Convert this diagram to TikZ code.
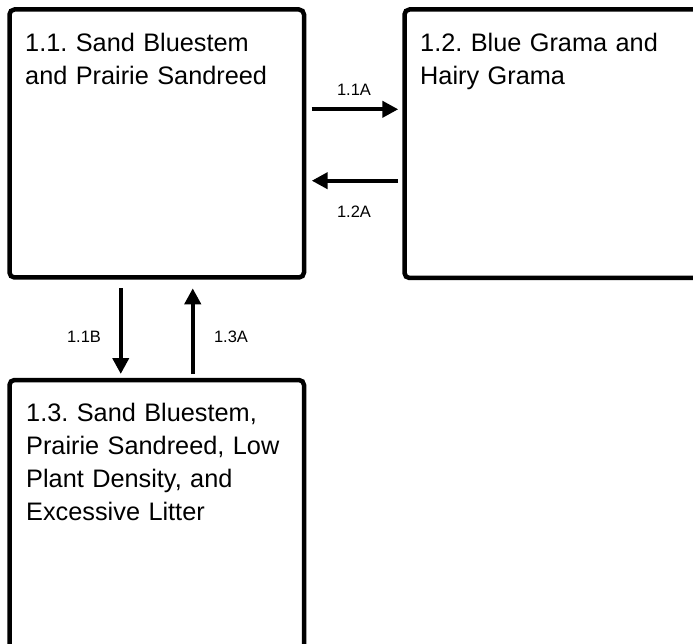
\documentclass[tikz,border=0pt]{standalone}
\usepackage{fontspec}
\setmainfont{Liberation Sans}
\usetikzlibrary{arrows.meta}
\frenchspacing
\tikzset{
  statebox/.style={draw=black, line width=4.5pt, rounded corners=5pt, inner sep=0pt, outer sep=0pt, fill=none},
  boxtext/.style={anchor=base west, inner sep=0pt, align=left, text width=285pt, font=\fontsize{25.3}{33}\selectfont\frenchspacing},
  trans/.style={line width=4pt, -{Triangle[length=16pt,width=16pt]}},
  translabel/.style={inner sep=0pt, font=\fontsize{16.5}{19}\selectfont}
}
\begin{document}
\begin{tikzpicture}[x=1pt,y=-1pt]
\useasboundingbox (0,0) rectangle (693,644);
\clip (0,0) rectangle (693,644);
\node[statebox, minimum width=294.5pt, minimum height=268pt] (b11) at (156.75,143.5) {};
\node[statebox, minimum width=300pt, minimum height=268.5pt] (b12) at (554.5,143.75) {};
\node[statebox, minimum width=294.5pt, minimum height=300pt] (b13) at (156.75,530) {};
\node[boxtext] (t11) at (25,51.7) {1.1. Sand Bluestem\\and Prairie Sandreed};
\node[boxtext] (t12) at (420,51.7) {1.2. Blue Grama and\\Hairy Grama};
\node[boxtext] (t13) at (26,421.7) {1.3. Sand Bluestem,\\Prairie Sandreed, Low\\Plant Density, and\\Excessive Litter};
\draw[trans] ([xshift=7.7pt,yshift=34.2pt]b11.east) -- ([xshift=-6.2pt,yshift=34.45pt]b12.west);
\draw[trans] ([xshift=-6.5pt,yshift=-36.95pt]b12.west) -- ([xshift=7.7pt,yshift=-37.2pt]b11.east);
\draw[trans] ([xshift=-36pt,yshift=-10.8pt]b11.south) -- ([xshift=-36pt,yshift=6pt]b13.north);
\draw[trans] ([xshift=36pt,yshift=6pt]b13.north) -- ([xshift=36pt,yshift=-10.8pt]b11.south);
\node[translabel] (l11a) at (354,90) {1.1A};
\node[translabel] (l12a) at (354,212) {1.2A};
\node[translabel] (l11b) at (84,337) {1.1B};
\node[translabel] (l13a) at (231,337) {1.3A};
\end{tikzpicture}
\end{document}
